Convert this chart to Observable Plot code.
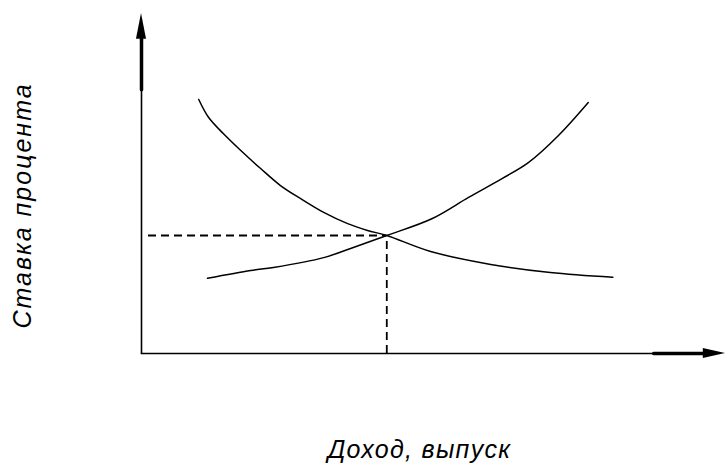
<!DOCTYPE html>
<html>
<head>
<meta charset="utf-8">
<script src="https://cdn.jsdelivr.net/npm/d3@7"></script>
<script src="https://cdn.jsdelivr.net/npm/@observablehq/plot@0.6"></script>
<style>
  html, body { margin: 0; padding: 0; background: #fff; }
</style>
</head>
<body>
<div id="chart"></div>
<script>
// IS curve (descending): income, rate
const isIncome = [9.8, 11.5, 14.0, 17.0, 20.4, 23.8, 27.2, 31.2, 35.3, 38.7, 42.0, 49.5, 59.8, 70.0, 80.7];
const isRate   = [74.7, 69.4, 64.7, 59.7, 54.4, 49.4, 45.6, 41.5, 38.2, 36.2, 34.7, 30.0, 26.2, 23.8, 22.4];
// LM curve (ascending)
const lmIncome = [11.3, 18.7, 22.6, 31.2, 35.8, 42.0, 49.8, 56.0, 61.8, 66.3, 71.4, 76.5];
const lmRate   = [22.1, 24.4, 25.3, 28.2, 30.9, 34.7, 39.7, 45.9, 51.5, 56.2, 64.1, 73.8];
// equilibrium
const eqIncome = 42.0;
const eqRate = 34.7;
const dashStart = 1.2;
// axes
const axisMax = 100;
const yThickStart = 77.6, yHeadStart = 92.4;
const xThickStart = 87.7, xHeadStart = 96.2;
const yLabel = "Ставка процента";
const xLabel = "Доход, выпуск";

const IS = isIncome.map((x, i) => ({x, y: isRate[i]}));
const LM = lmIncome.map((x, i) => ({x, y: lmRate[i]}));

const font = "'Liberation Sans', Arial, sans-serif";

const chart = Plot.plot({
  width: 725,
  height: 470,
  marginLeft: 141,
  marginRight: 0,
  marginTop: 13,
  marginBottom: 117,
  x: {domain: [0, axisMax], axis: null},
  y: {domain: [0, axisMax], axis: null},
  style: {fontFamily: font, background: "#fff"},
  marks: [
    // y axis
    Plot.line([{x: 0, y: 0}, {x: 0, y: yThickStart}], {x: "x", y: "y", stroke: "#000", strokeWidth: 1.6}),
    Plot.line([{x: 0, y: yThickStart}, {x: 0, y: yHeadStart}], {x: "x", y: "y", stroke: "#000", strokeWidth: 3.5}),
    Plot.areaX([{y: yHeadStart, x1: -0.86, x2: 0.86}, {y: axisMax, x1: 0, x2: 0}], {y: "y", x1: "x1", x2: "x2", fill: "#000"}),
    // x axis
    Plot.line([{x: 0, y: 0}, {x: xThickStart, y: 0}], {x: "x", y: "y", stroke: "#000", strokeWidth: 1.6}),
    Plot.line([{x: xThickStart, y: 0}, {x: xHeadStart, y: 0}], {x: "x", y: "y", stroke: "#000", strokeWidth: 3.5}),
    Plot.areaY([{x: xHeadStart, y1: -1.5, y2: 1.5}, {x: axisMax, y1: 0, y2: 0}], {x: "x", y1: "y1", y2: "y2", fill: "#000"}),
    // dashed guides
    Plot.ruleY([eqRate], {x1: dashStart, x2: eqIncome, stroke: "#000", strokeWidth: 1.8, strokeDasharray: "8,5"}),
    Plot.ruleX([eqIncome], {y1: 0, y2: eqRate, stroke: "#000", strokeWidth: 1.8, strokeDasharray: "8,5"}),
    // curves
    Plot.line(IS, {x: "x", y: "y", stroke: "#000", strokeWidth: 1.5, curve: "catmull-rom"}),
    Plot.line(LM, {x: "x", y: "y", stroke: "#000", strokeWidth: 1.5, curve: "catmull-rom"}),
    // labels
    Plot.text([xLabel], {text: d => d, frameAnchor: "bottom", textAnchor: "middle", dx: -14, dy: 104, fontSize: 25, fontStyle: "italic", fill: "#000", className: "xlab"}),
    Plot.text([yLabel], {text: d => d, frameAnchor: "left", textAnchor: "middle", dx: -119, dy: 22, rotate: -90, fontSize: 25, fontStyle: "italic", fill: "#000", className: "ylab"})
  ]
});
chart.querySelectorAll(".ylab text").forEach(t => t.setAttribute("letter-spacing", "2px"));
chart.querySelectorAll(".xlab text").forEach(t => t.setAttribute("letter-spacing", "1.3px"));
document.getElementById("chart").appendChild(chart);
</script>
</body>
</html>
